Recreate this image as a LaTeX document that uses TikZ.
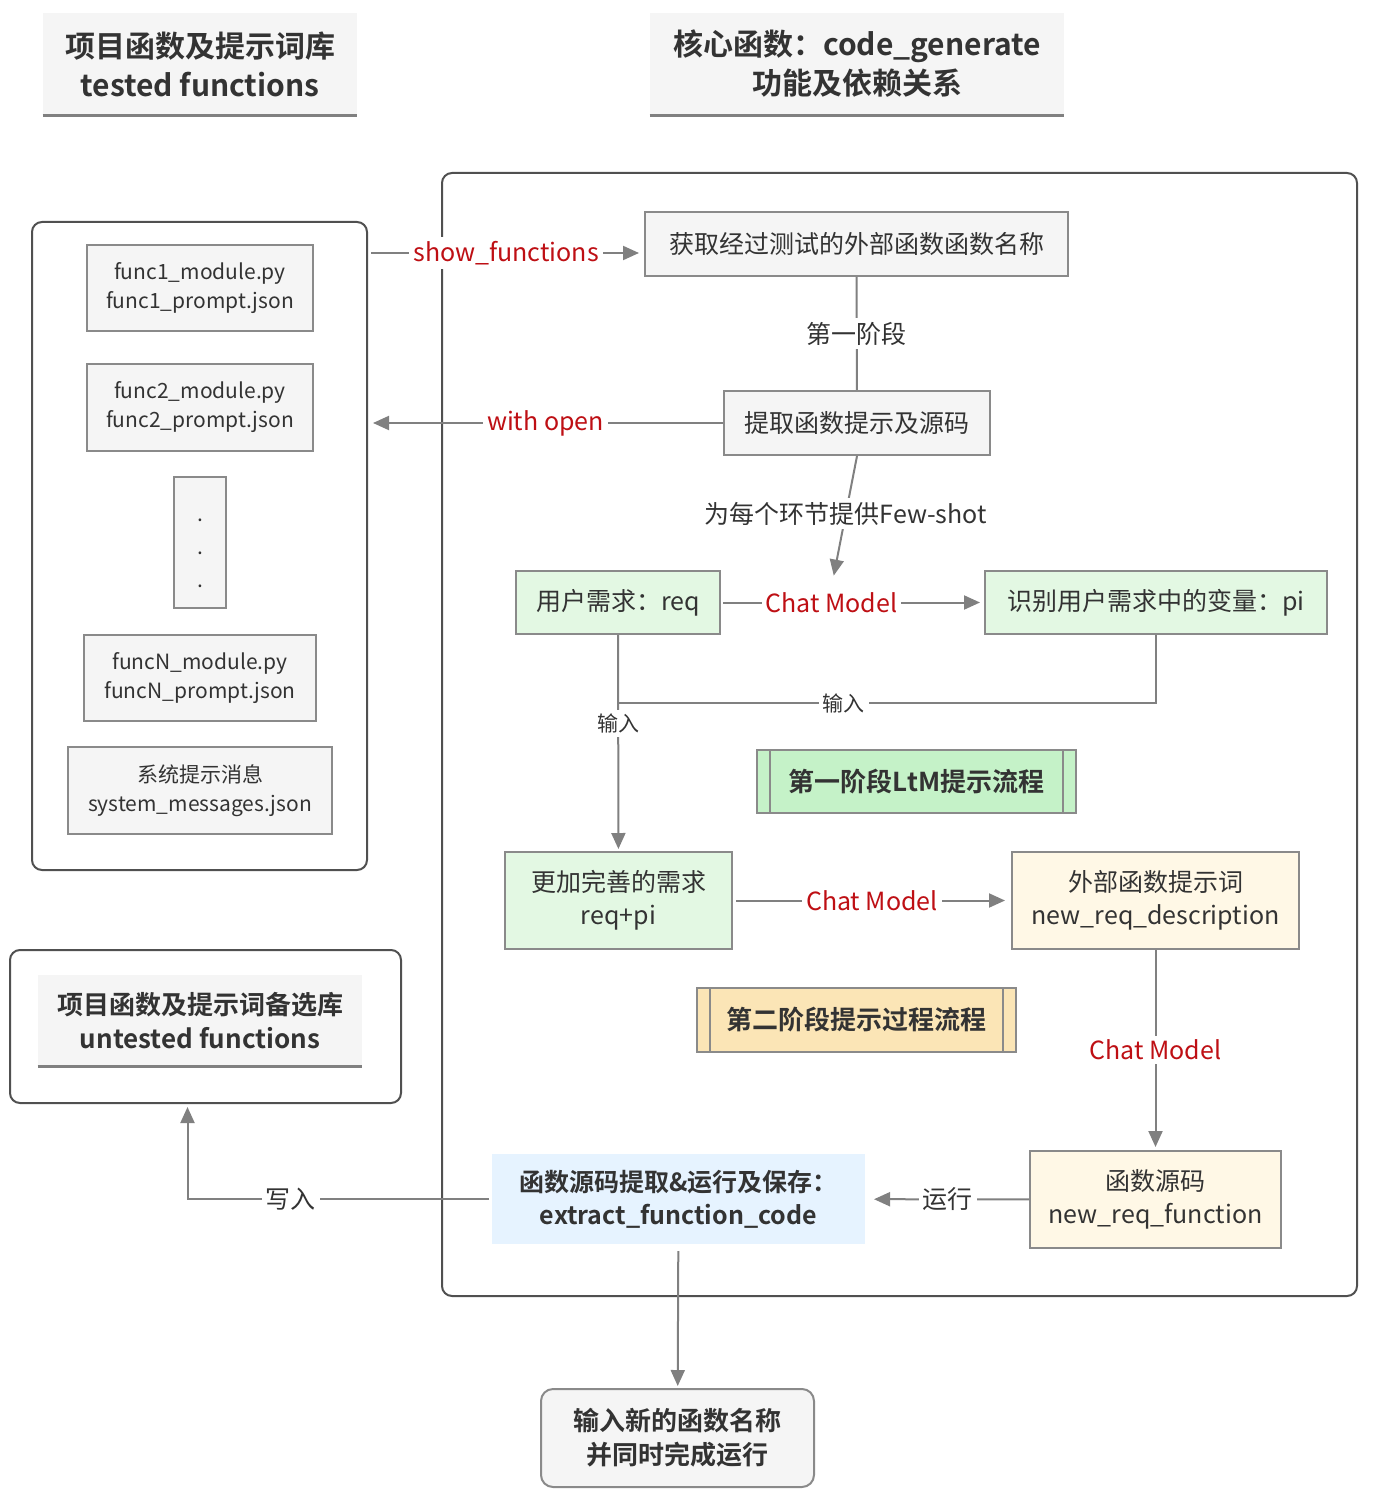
\documentclass[tikz,border=0pt]{standalone}
\usepackage{fontspec}
\setmainfont{Noto Sans CJK SC}[BoldFont={Noto Sans CJK SC Bold}]
\usetikzlibrary{arrows.meta}

\definecolor{txtgray}{HTML}{333333}
\definecolor{linegray}{HTML}{808080}
\definecolor{framegray}{HTML}{505050}
\definecolor{boxgray}{HTML}{8A8A8A}
\definecolor{boxfill}{HTML}{F5F5F5}
\definecolor{cmred}{RGB}{190,15,20}
\definecolor{reqgreen}{RGB}{227,248,227}
\definecolor{stagegreen}{RGB}{197,242,200}
\definecolor{descyellow}{RGB}{255,248,230}
\definecolor{stageyellow}{RGB}{251,229,182}
\definecolor{runblue}{RGB}{230,243,255}

\begin{document}
\begin{tikzpicture}[x=0.5pt,y=-0.5pt,
  every node/.style={text=txtgray},
  line/.style={draw=linegray,line width=1pt},
  arr/.style={line,-{Triangle[length=8pt,width=7pt]}},
  frame/.style={draw=framegray,line width=1pt,rounded corners=5pt},
  box/.style={draw=boxgray,line width=1pt,fill=boxfill,align=center,inner sep=0pt,
    font=\fontsize{12.5}{16.5}\selectfont},
  filebox/.style={box,font=\fontsize{10.5}{14.5}\selectfont},
  stagebox/.style={box,font=\bfseries\fontsize{13}{16}\selectfont},
  title/.style={fill=boxfill,align=center,inner sep=0pt,font=\bfseries\fontsize{15}{19.5}\selectfont},
  lbl/.style={fill=white,inner sep=2pt,font=\fontsize{12.5}{15}\selectfont},
  redlbl/.style={lbl,text=cmred},
  smalllbl/.style={lbl,font=\fontsize{10.5}{12}\selectfont}]

  \useasboundingbox (0,0) rectangle (1376,1502);

  % Titles
  \node[title,minimum width=157pt,minimum height=51pt] (t1) at (200,64) {项目函数及提示词库\\tested functions};
  \draw[draw=linegray,line width=1.2pt] (t1.south west) -- (t1.south east);
  \node[title,minimum width=207pt,minimum height=51pt] (t2) at (857,64) {核心函数：code\_generate\\功能及依赖关系};
  \draw[draw=linegray,line width=1.2pt] (t2.south west) -- (t2.south east);

  % Core function frame
  \draw[frame] (442,173) rectangle (1357,1296);

  % Tested functions panel
  \node[frame,minimum width=167.5pt,minimum height=324pt] (lib) at (199.5,546) {};
  \node[filebox,minimum width=113pt,minimum height=43pt] (f1) at (200,288) {func1\_module.py\\func1\_prompt.json};
  \node[filebox,minimum width=113pt,minimum height=43.5pt] (f2) at (200,407.5) {func2\_module.py\\func2\_prompt.json};
  \node[filebox,minimum width=26pt,minimum height=65.5pt] (fdots) at (200,542.5) {};
  \node[align=center,inner sep=0pt,font=\fontsize{10.5}{16.5}\selectfont] (dots) at (200,553) {.\\.\\.};
  \node[filebox,minimum width=116pt,minimum height=43pt] (fN) at (200,678) {funcN\_module.py\\funcN\_prompt.json};
  \node[filebox,minimum width=132pt,minimum height=43.5pt] (sys) at (200,790.5) {系统提示消息\\system\_messages.json};

  % Untested functions panel
  \node[frame,minimum width=195.5pt,minimum height=76.5pt] (untested) at (205.5,1026.5) {};
  \node[title,minimum width=162pt,minimum height=45.5pt,font=\bfseries\fontsize{13}{17}\selectfont] (t3) at (200,1020.5) {项目函数及提示词备选库\\untested functions};
  \draw[draw=linegray,line width=1.2pt] (t3.south west) -- (t3.south east);

  % First stage
  \node[box,minimum width=211.5pt,minimum height=32pt] (getnames) at (856.5,244) {获取经过测试的外部函数函数名称};
  \node[box,minimum width=133pt,minimum height=32pt] (extract) at (857,423) {提取函数提示及源码};
  \node[box,fill=reqgreen,minimum width=102pt,minimum height=31.5pt] (req) at (618,602.5) {用户需求：req};
  \node[box,fill=reqgreen,minimum width=171pt,minimum height=31.5pt] (pi) at (1156,602.5) {识别用户需求中的变量：pi};
  \node[stagebox,fill=stagegreen,minimum width=159.5pt,minimum height=31.5pt] (stage1) at (916.5,781.5) {第一阶段LtM提示流程};
  \draw[draw=boxgray,line width=1pt] ([xshift=7pt]stage1.north west) -- ([xshift=7pt]stage1.south west)
    ([xshift=-7pt]stage1.north east) -- ([xshift=-7pt]stage1.south east);

  % Second stage
  \node[box,fill=reqgreen,minimum width=113.5pt,minimum height=48.5pt] (reqpi) at (618.5,900.5) {更加完善的需求\\req+pi};
  \node[box,fill=descyellow,minimum width=143.5pt,minimum height=48.5pt] (desc) at (1155.5,900.5) {外部函数提示词\\new\_req\_description};
  \node[stagebox,fill=stageyellow,minimum width=159.5pt,minimum height=32pt] (stage2) at (856.5,1020) {第二阶段提示过程流程};
  \draw[draw=boxgray,line width=1pt] ([xshift=7pt]stage2.north west) -- ([xshift=7pt]stage2.south west)
    ([xshift=-7pt]stage2.north east) -- ([xshift=-7pt]stage2.south east);
  \node[box,fill=descyellow,minimum width=125.5pt,minimum height=48.5pt] (func) at (1155.5,1199.5) {函数源码\\new\_req\_function};
  \node[box,draw=none,fill=runblue,minimum width=186.5pt,minimum height=45pt,font=\bfseries\fontsize{12.5}{16.5}\selectfont] (runfn) at (678.5,1199) {函数源码提取\&运行及保存：\\extract\_function\_code};

  % Result
  \node[box,fill=boxfill,rounded corners=6pt,minimum width=136.5pt,minimum height=49pt,font=\bfseries\fontsize{13}{17}\selectfont] (final) at (677.5,1438) {输入新的函数名称\\并同时完成运行};

  % Connectors
  \draw[arr,shorten <=1.5pt,shorten >=2.5pt] (lib.east |- 0,253) -- node[redlbl]{show\_functions} ([yshift=-4.5pt]getnames.west);
  \draw[arr,shorten >=2.5pt] (extract) -- node[redlbl]{with open} (lib.east |- extract);
  \draw[line] (getnames) -- node[lbl]{第一阶段} (extract);
  \draw[arr,shorten <=1pt,shorten >=2pt] (req) -- node[redlbl,pos=0.42] (cm1) {Chat Model} (pi);
  \draw[arr,shorten >=6pt] (extract.south) -- node[lbl,pos=0.44]{为每个环节提供Few-shot} (cm1.north);
  \coordinate (join) at (618,703);
  \draw[line] (pi) |- node[smalllbl,pos=0.79]{输入} (join);
  \draw[arr,shorten >=1pt] (req) -- node[smalllbl,pos=0.41]{输入} (reqpi);
  \draw[arr,shorten <=1.5pt,shorten >=3pt] (reqpi) -- node[redlbl]{Chat Model} (desc);
  \draw[arr,shorten >=1.5pt] (desc) -- node[redlbl]{Chat Model} (func);
  \draw[arr,shorten >=4pt] (func) -- node[lbl]{运行} (runfn);
  \draw[arr,shorten <=1pt,shorten >=1.5pt] (runfn.west) -| node[lbl,pos=0.33]{写入} ([xshift=-9pt]untested.south);
  \draw[arr,shorten <=3pt,shorten >=1pt] (runfn) -- (final);

\end{tikzpicture}
\end{document}
